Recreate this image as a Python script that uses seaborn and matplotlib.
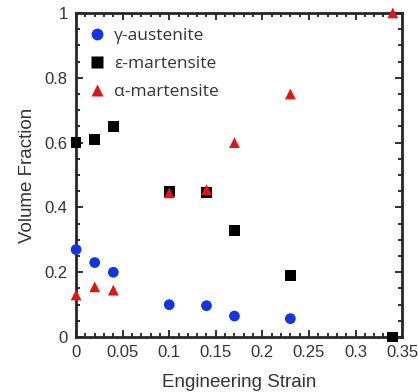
import matplotlib
matplotlib.use("Agg")
import matplotlib.pyplot as plt
import seaborn as sns
import pandas as pd
from matplotlib.ticker import MultipleLocator

strain_gamma = [0, 0.02, 0.04, 0.10, 0.14, 0.17, 0.23]
gamma = [0.27, 0.23, 0.20, 0.10, 0.097, 0.065, 0.057]
strain_eps = [0, 0.02, 0.04, 0.10, 0.14, 0.17, 0.23, 0.34]
eps = [0.60, 0.61, 0.65, 0.45, 0.445, 0.33, 0.19, 0.0]
strain_alpha = [0, 0.02, 0.04, 0.10, 0.14, 0.17, 0.23, 0.34]
alpha = [0.13, 0.155, 0.145, 0.445, 0.455, 0.60, 0.75, 1.0]
names = ["γ-austenite", "ε-martensite", "α-martensite"]

df = pd.concat([
    pd.DataFrame({"x": strain_gamma, "y": gamma, "phase": names[0]}),
    pd.DataFrame({"x": strain_eps, "y": eps, "phase": names[1]}),
    pd.DataFrame({"x": strain_alpha, "y": alpha, "phase": names[2]}),
])

sns.set_style("ticks")
plt.rcParams['font.family'] = ['Liberation Sans', 'DejaVu Sans']

fig = plt.figure(figsize=(4.18, 3.92), dpi=100)
ax = fig.add_axes([0.182, 0.140, 0.780, 0.827])
palette = {names[0]: "#1535e0", names[1]: "black", names[2]: "#e01515"}
markers = {names[0]: "o", names[1]: "s", names[2]: "^"}
sns.scatterplot(data=df, x="x", y="y", hue="phase", style="phase",
                palette=palette, markers=markers, s=60, edgecolor="none",
                ax=ax, clip_on=False, zorder=3)

ax.set_xlim(0, 0.35)
ax.set_ylim(0, 1)
ax.set_xticks([0, 0.05, 0.1, 0.15, 0.2, 0.25, 0.3, 0.35])
ax.set_xticklabels(["0", "0.05", "0.1", "0.15", "0.2", "0.25", "0.3", "0.35"])
ax.set_yticks([0, 0.2, 0.4, 0.6, 0.8, 1.0])
ax.set_yticklabels(["0", "0.2", "0.4", "0.6", "0.8", "1"])
ax.xaxis.set_minor_locator(MultipleLocator(0.01))
ax.yaxis.set_minor_locator(MultipleLocator(0.05))
ax.tick_params(which="both", direction="in", top=True, right=True, labelsize=12,
               width=1.3, colors="#222222", labelcolor="#333333")
ax.tick_params(which="major", length=5, pad=6)
ax.tick_params(which="minor", length=3)
for sp in ax.spines.values():
    sp.set_linewidth(2.0)
ax.set_xlabel("Engineering Strain", fontsize=13.5, color="#333333", labelpad=10)
ax.set_ylabel("Volume Fraction", fontsize=13.5, color="#333333", labelpad=6)

leg = ax.legend(loc="upper left", bbox_to_anchor=(0.0, 0.99), frameon=False,
                handlelength=1.0, handletextpad=0.5,
                borderaxespad=0.3, labelspacing=0.68, markerscale=1.1,
                prop={"family": ["Open Sans", "DejaVu Sans"], "size": 12.5})
for t in leg.get_texts():
    t.set_color("#333333")
fig.savefig("out.png", dpi=100)
